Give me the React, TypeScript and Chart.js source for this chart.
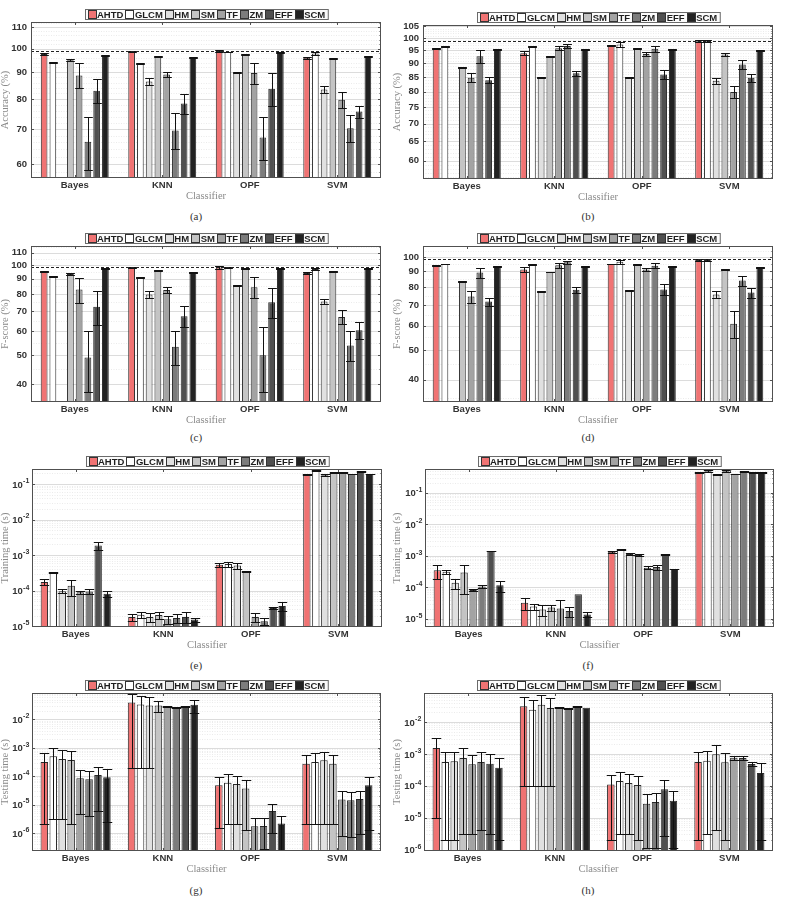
import React, { useEffect, useRef } from 'react';
import { Chart, registerables } from 'chart.js';

Chart.register(...registerables);

// ---------------------------------------------------------------------------
// Categories, series and tick labels
// ---------------------------------------------------------------------------
const CLASSIFIERS = ['Bayes', 'KNN', 'OPF', 'SVM'];
const METHODS = ['AHTD', 'GLCM', 'HM', 'SM', 'TF', 'ZM', 'EFF', 'SCM'];
const METHOD_COLORS = ['#f07373', '#ffffff', '#e0e0e0', '#c4c4c4', '#a3a3a3', '#7c7c7c', '#505050', '#222222'];

// rows: methods (AHTD..SCM), columns: classifiers (Bayes, KNN, OPF, SVM)
const accuracyA = [
  [97.6, 98.6, 98.9, 96.0],
  [94.1, 93.6, 98.5, 97.9],
  [50.0, 86.5, 90.1, 83.4],
  [95.0, 96.7, 97.4, 95.7],
  [88.8, 89.2, 89.8, 79.7],
  [66.2, 69.6, 67.5, 70.3],
  [83.0, 78.4, 83.7, 75.7],
  [96.8, 96.1, 98.2, 96.7],
];
const accuracyAErr = [
  [0.3, 0.3, 0.6, 0.4],
  [0.2, 0.2, 0.2, 0.6],
  [0, 1.3, 0.2, 1.2],
  [0.4, 0.2, 0.3, 0.2],
  [4.9, 1.1, 4.2, 2.8],
  [7.7, 5.5, 6.5, 4.2],
  [4.3, 3.5, 6.0, 2.0],
  [0.2, 0.2, 0.2, 0.2],
];
const accuracyATicks = [60, 70, 80, 90, 100, 110];

const accuracyB = [
  [95.9, 93.9, 96.8, 98.7],
  [96.7, 96.4, 97.4, 98.7],
  [50.0, 84.8, 85.0, 83.7],
  [88.4, 92.5, 95.7, 93.4],
  [84.8, 95.9, 93.6, 79.9],
  [92.7, 96.8, 95.7, 89.6],
  [83.9, 86.4, 85.9, 84.8],
  [95.4, 95.4, 95.4, 94.9],
];
const accuracyBErr = [
  [0.2, 0.8, 0.2, 0.5],
  [0.2, 0.2, 0.9, 0.5],
  [0, 0.2, 0.2, 1.1],
  [0.2, 0.2, 0.2, 0.4],
  [1.5, 0.8, 0.6, 2.0],
  [2.4, 0.7, 1.2, 1.6],
  [1.0, 0.9, 1.5, 1.4],
  [0.1, 0.1, 0.1, 0.1],
];
const accuracyBTicks = [60, 65, 70, 75, 80, 85, 90, 95, 100, 105];

const fscoreC = [
  [95.0, 98.0, 98.0, 94.0],
  [91.2, 90.7, 98.0, 96.9],
  [30.0, 79.6, 85.3, 75.4],
  [93.3, 95.7, 97.5, 95.0],
  [82.7, 82.5, 84.2, 67.0],
  [49.0, 53.3, 49.9, 53.8],
  [72.4, 67.3, 75.0, 60.5],
  [97.2, 94.5, 97.2, 97.2],
];
const fscoreCErr = [
  [0.4, 0.3, 1.0, 0.6],
  [0.3, 0.3, 0.3, 1.0],
  [0, 2.2, 0.3, 1.5],
  [0.5, 0.3, 0.3, 0.4],
  [8.0, 2.0, 6.8, 3.5],
  [11.3, 7.0, 12.2, 6.2],
  [9.3, 5.4, 8.8, 4.0],
  [0.2, 0.2, 0.2, 0.2],
];
const fscoreCTicks = [40, 50, 60, 70, 80, 90, 100, 110];

const fscoreD = [
  [93.8, 91.2, 95.1, 98.0],
  [95.1, 94.7, 96.8, 98.0],
  [30.0, 77.6, 78.0, 75.7],
  [83.2, 89.6, 94.7, 91.4],
  [74.6, 94.2, 91.2, 60.8],
  [89.2, 96.4, 93.8, 84.0],
  [71.8, 78.4, 78.6, 76.8],
  [93.3, 93.3, 93.3, 92.6],
];
const fscoreDErr = [
  [0.3, 1.5, 0.3, 0.5],
  [0.3, 0.3, 1.5, 0.5],
  [0, 0.3, 0.3, 2.1],
  [0.3, 0.3, 0.3, 0.5],
  [3.4, 1.8, 1.2, 6.0],
  [3.4, 1.2, 1.8, 3.2],
  [2.2, 1.7, 3.3, 2.9],
  [0.2, 0.2, 0.2, 0.2],
];
const fscoreDTicks = [40, 50, 60, 70, 80, 90, 100];

const trainE = [
  [1.75e-4, 1.83e-5, 5.36e-4, 0.183],
  [3.2e-4, 2.1e-5, 5.6e-4, 0.241],
  [9.6e-5, 1.83e-5, 5.13e-4, 0.175],
  [1.38e-4, 2.08e-5, 3.48e-4, 0.212],
  [9.0e-5, 1.57e-5, 1.83e-5, 0.212],
  [9.4e-5, 1.71e-5, 1.38e-5, 0.19],
  [1.87e-3, 1.83e-5, 3.27e-5, 0.222],
  [8.2e-5, 1.54e-5, 3.72e-5, 0.19],
];
const trainEErr = [
  [3.3e-5, 4e-6, 6e-5, 0.005],
  [5e-6, 4e-6, 9e-5, 0.01],
  [1.2e-5, 5e-6, 1e-4, 0.012],
  [6.5e-5, 5e-6, 2e-5, 0.008],
  [1e-5, 4e-6, 5e-6, 0.005],
  [1.5e-5, 4.5e-6, 3e-6, 0.004],
  [5e-4, 6e-6, 3e-6, 0.005],
  [1.5e-5, 2e-6, 1.1e-5, 0.004],
];

const trainF = [
  [3.4e-4, 3.15e-5, 1.32e-3, 0.433],
  [3.06e-4, 2.41e-5, 1.57e-3, 0.477],
  [1.36e-4, 1.93e-5, 1.12e-3, 0.374],
  [2.9e-4, 2.24e-5, 1.04e-3, 0.477],
  [8.0e-5, 2.08e-5, 4.1e-4, 0.393],
  [1.05e-4, 1.75e-5, 4.3e-4, 0.455],
  [1.39e-3, 5.96e-5, 1.09e-3, 0.433],
  [1.15e-4, 1.34e-5, 3.72e-4, 0.423],
];
const trainFErr = [
  [1.6e-4, 1.3e-5, 1e-4, 0.02],
  [4e-5, 5e-6, 5e-5, 0.03],
  [5e-5, 7e-6, 1e-4, 0.01],
  [2.3e-4, 5e-6, 1e-4, 0.04],
  [5e-6, 1.7e-5, 4e-5, 0.01],
  [1.2e-5, 6e-6, 9e-5, 0.015],
  [4e-5, 0, 3e-5, 0.01],
  [4.5e-5, 2.5e-6, 1e-5, 0.015],
];
const trainTicks = [1e-5, 1e-4, 1e-3, 1e-2, 1e-1];

const testG = [
  [3.15e-4, 3.96e-2, 4.75e-5, 2.75e-4],
  [4.99e-4, 3.37e-2, 5.9e-5, 3.15e-4],
  [4.02e-4, 3.11e-2, 5.3e-5, 3.6e-4],
  [3.71e-4, 3.11e-2, 3.63e-5, 2.75e-4],
  [8.4e-5, 2.79e-2, 1.72e-6, 1.49e-5],
  [7.7e-5, 2.64e-2, 1.76e-6, 1.41e-5],
  [1.1e-4, 2.94e-2, 5.9e-6, 1.57e-5],
  [9.1e-5, 3.28e-2, 2.13e-6, 4.75e-5],
];
const testGErr = [
  [3.13e-4, 3.94e-2, 4.6e-5, 2.73e-4],
  [4.96e-4, 3.35e-2, 5.7e-5, 3.13e-4],
  [3.99e-4, 3.09e-2, 5.1e-5, 3.58e-4],
  [3.69e-4, 1.3e-2, 3.5e-5, 2.73e-4],
  [7.95e-5, 1.5e-3, 1.5e-6, 1.41e-5],
  [7.3e-5, 1e-3, 1.5e-6, 1.34e-5],
  [1.04e-4, 1e-3, 4.9e-6, 1.48e-5],
  [8.86e-5, 1.64e-2, 1.9e-6, 4.62e-5],
];

const testH = [
  [1.53e-3, 3.1e-2, 1.11e-4, 5.58e-4],
  [5.58e-4, 2.43e-2, 1.42e-4, 6.15e-4],
  [5.86e-4, 3.49e-2, 1.23e-4, 9.7e-4],
  [7.45e-4, 2.75e-2, 1.06e-4, 5.45e-4],
  [4.72e-4, 2.88e-2, 2.76e-5, 7.63e-4],
  [5.58e-4, 2.68e-2, 3.11e-5, 7.45e-4],
  [4.96e-4, 3.02e-2, 7.76e-5, 4.83e-4],
  [3.7e-4, 2.81e-2, 3.43e-5, 2.52e-4],
];
const testHErr = [
  [1.52e-3, 3.09e-2, 1.09e-4, 5.56e-4],
  [5.56e-4, 2.42e-2, 1.39e-4, 6.12e-4],
  [5.84e-4, 3.48e-2, 1.2e-4, 9.66e-4],
  [7.42e-4, 2.74e-2, 1.04e-4, 5.43e-4],
  [4.69e-4, 1.5e-3, 2.65e-5, 1e-4],
  [5.54e-4, 1.5e-3, 3.0e-5, 1e-4],
  [4.93e-4, 1.5e-3, 7.5e-5, 6e-5],
  [3.68e-4, 0, 3.32e-5, 2.5e-4],
];
const testTicks = [1e-6, 1e-5, 1e-4, 1e-3, 1e-2];

// ---------------------------------------------------------------------------
// Styling / layout
// ---------------------------------------------------------------------------
const SANS = '"Liberation Sans", Arial, Helvetica, sans-serif';
const SERIF = '"Liberation Serif", "Times New Roman", Times, serif';
const PANEL_W = 392;
const X_AXIS_H = 27;

type Area = { left: number; right: number; top: number; bottom: number };

interface PanelSpec {
  key: string;
  caption: string;
  yTitle: string;
  mean: number[][];
  err: number[][];
  ticks: number[];
  yMin: number;
  yMax: number;
  minorStep: number; // 0 => decade minor lines
  power: boolean;
  refLine?: number;
  left: number;
  top: number;
  area: Area;
  captionY: number;
  barPct: number;
  catPct: number;
}

function minorValues(spec: PanelSpec): number[] {
  const out: number[] = [];
  if (spec.minorStep > 0) {
    const s = spec.minorStep;
    for (let v = Math.ceil(spec.yMin / s) * s; v < spec.yMax; v += s) {
      if (!spec.ticks.some((t) => Math.abs(t - v) < 1e-9)) out.push(v);
    }
  } else {
    const k0 = Math.floor(Math.log10(spec.yMin));
    const k1 = Math.ceil(Math.log10(spec.yMax));
    for (let k = k0; k <= k1; k++) {
      for (let m = 2; m <= 9; m++) {
        const v = m * Math.pow(10, k);
        if (v > spec.yMin && v < spec.yMax) out.push(v);
      }
    }
  }
  return out;
}

function makePlugin(spec: PanelSpec) {
  const minors = minorValues(spec);
  return {
    id: 'panelDecor' + spec.key,
    beforeDatasetsDraw(chart: any) {
      const { ctx, chartArea: ca } = chart;
      const y = chart.scales.y;
      ctx.save();
      ctx.lineWidth = 1;
      ctx.strokeStyle = '#ebebeb';
      ctx.setLineDash([1, 1.5]);
      for (const v of minors) {
        const py = Math.round(y.getPixelForValue(v)) + 0.5;
        if (py < ca.top || py > ca.bottom) continue;
        ctx.beginPath();
        ctx.moveTo(ca.left, py);
        ctx.lineTo(ca.right, py);
        ctx.stroke();
      }
      ctx.setLineDash([]);
      ctx.strokeStyle = '#dcdcdc';
      for (const v of spec.ticks) {
        const py = Math.round(y.getPixelForValue(v)) + 0.5;
        ctx.beginPath();
        ctx.moveTo(ca.left, py);
        ctx.lineTo(ca.right, py);
        ctx.stroke();
      }
      ctx.restore();
    },
    afterDatasetsDraw(chart: any) {
      const { ctx, chartArea: ca } = chart;
      const y = chart.scales.y;
      ctx.save();
      ctx.beginPath();
      ctx.rect(ca.left, ca.top, ca.right - ca.left, ca.bottom - ca.top);
      ctx.clip();
      // error bars
      ctx.strokeStyle = '#111';
      ctx.lineWidth = 1;
      spec.mean.forEach((row, i) => {
        const meta = chart.getDatasetMeta(i);
        row.forEach((v, j) => {
          const e = spec.err[i][j];
          const el: any = meta.data[j];
          if (!el || e <= 0) return;
          const cx = Math.round(el.x) + 0.5;
          const half = el.width / 2 + 1;
          const lo = v - e > 0 ? v - e : spec.yMin * 0.5;
          const pHi = Math.round(y.getPixelForValue(v + e)) + 0.5;
          const pLo = Math.round(y.getPixelForValue(lo)) + 0.5;
          ctx.beginPath();
          ctx.moveTo(cx, pHi);
          ctx.lineTo(cx, pLo);
          ctx.moveTo(cx - half, pHi);
          ctx.lineTo(cx + half, pHi);
          ctx.moveTo(cx - half, pLo);
          ctx.lineTo(cx + half, pLo);
          ctx.stroke();
        });
      });
      // reference level
      if (spec.refLine !== undefined) {
        const py = Math.round(y.getPixelForValue(spec.refLine)) + 0.5;
        ctx.setLineDash([3, 2]);
        ctx.strokeStyle = '#222';
        ctx.beginPath();
        ctx.moveTo(ca.left, py);
        ctx.lineTo(ca.right, py);
        ctx.stroke();
        ctx.setLineDash([]);
      }
      ctx.restore();
    },
    afterDraw(chart: any) {
      const { ctx, chartArea: ca } = chart;
      const x = chart.scales.x;
      const y = chart.scales.y;
      ctx.save();
      // frame
      ctx.strokeStyle = '#505050';
      ctx.lineWidth = 1;
      ctx.strokeRect(Math.round(ca.left) + 0.5, Math.round(ca.top) + 0.5,
        Math.round(ca.right - ca.left) - 1, Math.round(ca.bottom - ca.top) - 1);
      // inward tick marks
      ctx.beginPath();
      CLASSIFIERS.forEach((_, j) => {
        const px = Math.round(x.getPixelForTick(j)) + 0.5;
        ctx.moveTo(px, ca.top);
        ctx.lineTo(px, ca.top + 3);
        ctx.moveTo(px, ca.bottom);
        ctx.lineTo(px, ca.bottom - 3);
      });
      for (const v of spec.ticks) {
        const py = Math.round(y.getPixelForValue(v)) + 0.5;
        ctx.moveTo(ca.right, py);
        ctx.lineTo(ca.right - 3, py);
        ctx.moveTo(ca.left, py);
        ctx.lineTo(ca.left + 3, py);
      }
      for (const v of minors) {
        const py = Math.round(y.getPixelForValue(v)) + 0.5;
        if (py < ca.top || py > ca.bottom) continue;
        ctx.moveTo(ca.right, py);
        ctx.lineTo(ca.right - 1.5, py);
      }
      ctx.stroke();

      // power-of-ten tick labels
      if (spec.power) {
        ctx.fillStyle = '#333';
        ctx.textBaseline = 'middle';
        ctx.textAlign = 'left';
        const bigFont = `bold 9.5px ${SANS}`;
        const smallFont = `bold 7px ${SANS}`;
        for (const v of spec.ticks) {
          const exp = String(Math.round(Math.log10(v)));
          ctx.font = bigFont;
          const wBase = ctx.measureText('10').width;
          ctx.font = smallFont;
          const wExp = ctx.measureText(exp).width;
          const right = ca.left - 3;
          const x0 = right - wBase - wExp;
          const py = y.getPixelForValue(v);
          ctx.font = bigFont;
          ctx.fillText('10', x0, py + 1);
          ctx.font = smallFont;
          ctx.fillText(exp, x0 + wBase + 0.3, py - 3);
        }
      }

      // legend
      ctx.font = `bold 9.5px ${SANS}`;
      const box = 8;
      const widths = METHODS.map((m) => ctx.measureText(m).width);
      const itemW = widths.map((w) => box + 1.5 + w + 2);
      const total = itemW.reduce((a, b) => a + b, 0) + 3;
      const cx = (ca.left + ca.right) / 2;
      const lx = Math.round(cx - total / 2) + 0.5;
      const ly = Math.round(ca.top - 13) + 0.5;
      const lh = 10;
      ctx.fillStyle = '#fbfbfb';
      ctx.fillRect(lx, ly, total, lh);
      ctx.strokeStyle = '#6a6a6a';
      ctx.strokeRect(lx, ly, total, lh);
      let ix = lx + 2;
      METHODS.forEach((m, i) => {
        const by = ly + 1;
        ctx.fillStyle = METHOD_COLORS[i];
        ctx.fillRect(Math.round(ix) + 0.5, by, box, box);
        ctx.strokeStyle = '#333';
        ctx.strokeRect(Math.round(ix) + 0.5, by, box, box);
        ctx.fillStyle = '#1e1e1e';
        ctx.textBaseline = 'middle';
        ctx.textAlign = 'left';
        ctx.fillText(m, ix + box + 1.5, ly + lh / 2 + 0.5);
        ix += itemW[i];
      });
      ctx.restore();
    },
  };
}

function Panel({ spec }: { spec: PanelSpec }) {
  const ref = useRef<HTMLCanvasElement>(null);
  const height = spec.area.bottom + X_AXIS_H;

  useEffect(() => {
    const canvas = ref.current;
    if (!canvas) return;
    const tickFont = { family: SANS, size: 9.5, weight: 'bold' as const };
    const titleFont = { family: SERIF, size: 10.5, lineHeight: 1 };
    const chart = new Chart(canvas, {
      type: 'bar',
      data: {
        labels: CLASSIFIERS,
        datasets: METHODS.map((m, i) => ({
          label: m,
          data: spec.mean[i],
          backgroundColor: METHOD_COLORS[i],
          borderColor: '#2a2a2a',
          borderWidth: 1,
          barPercentage: spec.barPct,
          categoryPercentage: spec.catPct,
        })),
      },
      options: {
        responsive: false,
        animation: false,
        devicePixelRatio: 1,
        events: [],
        layout: {
          padding: {
            left: 0,
            top: spec.area.top,
            right: PANEL_W - spec.area.right,
            bottom: 0,
          },
        },
        plugins: {
          legend: { display: false },
          tooltip: { enabled: false },
          title: { display: false },
        },
        scales: {
          x: {
            type: 'category',
            offset: true,
            afterFit: (s: any) => {
              s.height = X_AXIS_H;
            },
            grid: { display: false, drawTicks: false },
            border: { display: false },
            ticks: {
              padding: 1.3,
              color: '#333',
              font: tickFont,
              maxRotation: 0,
              autoSkip: false,
            },
            title: {
              display: true,
              text: 'Classifier',
              color: '#8a8a8a',
              font: titleFont,
              padding: { top: 0, bottom: 3.75 },
            },
          },
          y: {
            type: 'logarithmic',
            min: spec.yMin,
            max: spec.yMax,
            afterBuildTicks: (s: any) => {
              s.ticks = spec.ticks.map((v) => ({ value: v }));
            },
            afterFit: (s: any) => {
              s.width = spec.area.left;
            },
            grid: { display: false, drawTicks: false },
            border: { display: false },
            ticks: {
              display: !spec.power,
              autoSkip: false,
              padding: 4,
              color: '#333',
              font: tickFont,
              callback: (v: any) => String(v),
            },
            title: {
              display: true,
              text: spec.yTitle,
              color: '#8a8a8a',
              font: titleFont,
              padding: 0,
            },
          },
        },
      },
      plugins: [makePlugin(spec)],
    } as any);
    return () => chart.destroy();
  }, [spec]);

  return (
    <>
      <div style={{ position: 'absolute', left: spec.left, top: spec.top, width: PANEL_W, height }}>
        <canvas ref={ref} width={PANEL_W} height={height} style={{ display: 'block', width: PANEL_W, height }} />
      </div>
      <div
        style={{
          position: 'absolute',
          left: spec.left,
          top: spec.captionY - 7,
          width: PANEL_W,
          height: 14,
          lineHeight: '14px',
          textAlign: 'center',
          fontFamily: SERIF,
          fontSize: 11,
          color: '#333',
        }}
      >
        {spec.caption}
      </div>
    </>
  );
}

const PANELS: PanelSpec[] = [
  {
    key: 'a', caption: '(a)', yTitle: 'Accuracy (%)', mean: accuracyA, err: accuracyAErr,
    ticks: accuracyATicks, yMin: 56.4, yMax: 112.5, minorStep: 2, power: false, refLine: 98.8,
    left: 0, top: 0, area: { left: 31, right: 381, top: 22, bottom: 178 }, captionY: 216,
    barPct: 0.76, catPct: 0.8,
  },
  {
    key: 'b', caption: '(b)', yTitle: 'Accuracy (%)', mean: accuracyB, err: accuracyBErr,
    ticks: accuracyBTicks, yMin: 55.6, yMax: 105.6, minorStep: 1, power: false, refLine: 98.6,
    left: 392, top: 0, area: { left: 31, right: 381, top: 25, bottom: 179 }, captionY: 216,
    barPct: 0.78, catPct: 0.8,
  },
  {
    key: 'c', caption: '(c)', yTitle: 'F-score (%)', mean: fscoreC, err: fscoreCErr,
    ticks: fscoreCTicks, yMin: 34.8, yMax: 115.7, minorStep: 5, power: false, refLine: 98.5,
    left: 0, top: 225, area: { left: 31, right: 381, top: 21, bottom: 177 }, captionY: 437,
    barPct: 0.78, catPct: 0.8,
  },
  {
    key: 'd', caption: '(d)', yTitle: 'F-score (%)', mean: fscoreD, err: fscoreDErr,
    ticks: fscoreDTicks, yMin: 33.9, yMax: 108.8, minorStep: 5, power: false, refLine: 98.4,
    left: 392, top: 225, area: { left: 31, right: 381, top: 21, bottom: 177 }, captionY: 437,
    barPct: 0.78, catPct: 0.8,
  },
  {
    key: 'e', caption: '(e)', yTitle: 'Training time (s)', mean: trainE, err: trainEErr,
    ticks: trainTicks, yMin: 9.5e-6, yMax: 0.264, minorStep: 0, power: true,
    left: 0, top: 445, area: { left: 32, right: 382, top: 24, bottom: 182 }, captionY: 665,
    barPct: 0.82, catPct: 0.82,
  },
  {
    key: 'f', caption: '(f)', yTitle: 'Training time (s)', mean: trainF, err: trainFErr,
    ticks: trainTicks, yMin: 5.4e-6, yMax: 0.56, minorStep: 0, power: true,
    left: 392, top: 445, area: { left: 33, right: 382, top: 24, bottom: 182 }, captionY: 665,
    barPct: 0.82, catPct: 0.82,
  },
  {
    key: 'g', caption: '(g)', yTitle: 'Testing time (s)', mean: testG, err: testGErr,
    ticks: testTicks, yMin: 2.3e-7, yMax: 0.085, minorStep: 0, power: true,
    left: 0, top: 660, area: { left: 32, right: 381, top: 33, bottom: 191 }, captionY: 890,
    barPct: 0.84, catPct: 0.82,
  },
  {
    key: 'h', caption: '(h)', yTitle: 'Testing time (s)', mean: testH, err: testHErr,
    ticks: testTicks, yMin: 9.1e-7, yMax: 0.081, minorStep: 0, power: true,
    left: 392, top: 660, area: { left: 32, right: 381, top: 33, bottom: 191 }, captionY: 890,
    barPct: 0.84, catPct: 0.82,
  },
];

export default function App() {
  return (
    <div style={{ position: 'absolute', left: 0, top: 0, width: 785, height: 905, background: '#ffffff', overflow: 'hidden' }}>
      {PANELS.map((p) => (
        <Panel key={p.key} spec={p} />
      ))}
    </div>
  );
}
